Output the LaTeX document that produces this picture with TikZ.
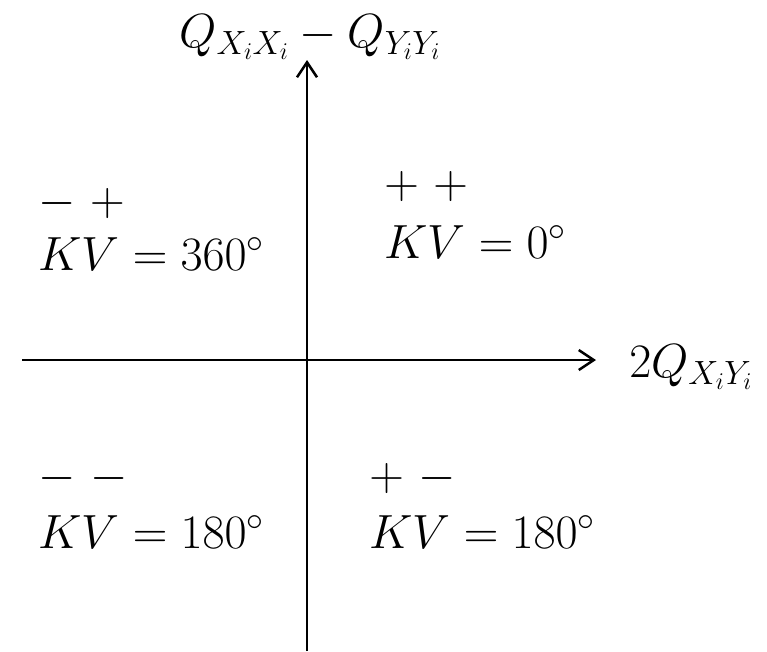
\RequirePackage{fix-cm}
\documentclass[tikz,border=0pt]{standalone}
\usepackage{amsmath}
\usetikzlibrary{arrows.meta}

\begin{document}
\begin{tikzpicture}[x=1pt,y=-1pt,line width=2.5pt,
  lbl/.style={inner sep=0pt,anchor=base west,font=\fontsize{48}{58}\selectfont},
  axis/.style={-{Straight Barb[length=15pt,width=20pt]}}]
  \useasboundingbox (0,0) rectangle (767,651);
  \coordinate (xl) at (22,360); \coordinate (xr) at (596,360);
  \coordinate (yb) at (307,651); \coordinate (yt) at (307,60);
  \draw[axis] (xl) -- (xr);
  \draw[axis] (yb) -- (yt);
  \node[lbl,anchor=base] (ylab) at (310,47) {$Q_{X_iX_i}-Q_{Y_iY_i}$};
  \node[lbl] (xlab) at (628,377) {$2Q_{X_iY_i}$};
  \foreach \n/\x/\ys/\yk/\sg/\kv in {tl/37/215/270/{-\ +}/360,tr/383/198/258/{+\ +}/0,bl/37/490/548/{-\ -}/180,br/368/490/548/{+\ -}/180}{
    \node[lbl] (s\n) at (\x,\ys) {$\sg$};
    \node[lbl] (kv\n) at (\x,\yk) {$KV=\kv^\circ$};}
\end{tikzpicture}
\end{document}
